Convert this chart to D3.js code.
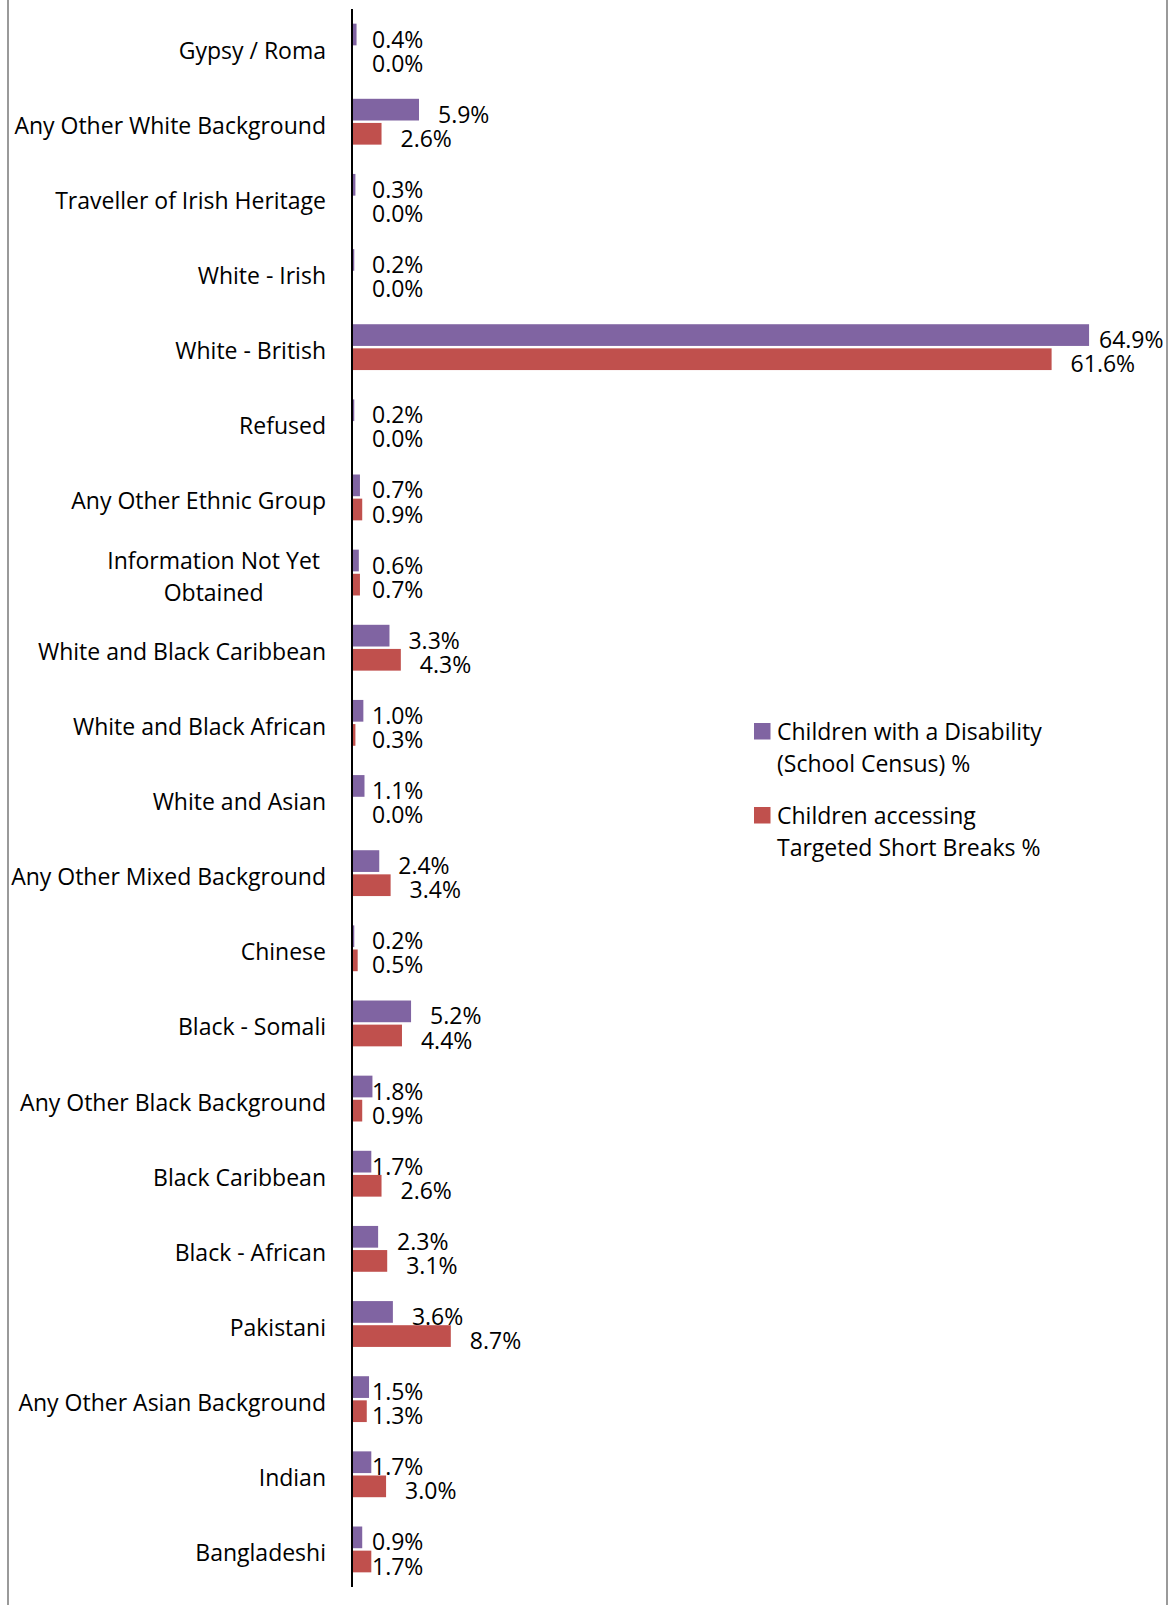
<!DOCTYPE html>
<html>
<head>
<meta charset="utf-8">
<script src="https://cdn.jsdelivr.net/npm/d3@7"></script>
<style>
  body { margin: 0; background: #fff; }
  svg text { font-family: "Open Sans", Lato, sans-serif; fill: #000; }
</style>
</head>
<body>
<div id="app"></div>
<script>
const container = document.querySelector('#app');

// chart size
const width = 1171;
const height = 1605;
const axisX = 352;
const marginTop = 9;
const marginBottom = 18;
const fontSize = 23;

// data
const categories = [
  "Gypsy / Roma",
  "Any Other White Background",
  "Traveller of Irish Heritage",
  "White - Irish",
  "White - British",
  "Refused",
  "Any Other Ethnic Group",
  "Information Not Yet Obtained",
  "White and Black Caribbean",
  "White and Black African",
  "White and Asian",
  "Any Other Mixed Background",
  "Chinese",
  "Black - Somali",
  "Any Other Black Background",
  "Black Caribbean",
  "Black - African",
  "Pakistani",
  "Any Other Asian Background",
  "Indian",
  "Bangladeshi"
];
const disabilityPct = [0.4, 5.9, 0.3, 0.2, 64.9, 0.2, 0.7, 0.6, 3.3, 1.0, 1.1, 2.4, 0.2, 5.2, 1.8, 1.7, 2.3, 3.6, 1.5, 1.7, 0.9];
const shortBreaksPct = [0.0, 2.6, 0.0, 0.0, 61.6, 0.0, 0.9, 0.7, 4.3, 0.3, 0.0, 3.4, 0.5, 4.4, 0.9, 2.6, 3.1, 8.7, 1.3, 3.0, 1.7];
const legendLines = [
  ["Children with a Disability", "(School Census) %"],
  ["Children accessing", "Targeted Short Breaks %"]
];
const colors = ["#8064A2", "#C0504D"];

const series = [disabilityPct, shortBreaksPct];

// scales
const x = d3.scaleLinear()
    .domain([0, 70])
    .range([axisX, 1147]);

const y = d3.scaleBand()
    .domain(categories)
    .range([marginTop, height - marginBottom])
    .paddingInner(0.39)
    .paddingOuter(0.195);

const ySub = d3.scaleBand()
    .domain([0, 1])
    .range([0, y.bandwidth()])
    .paddingInner(0.1);

const svg = d3.create("svg")
    .attr("width", width)
    .attr("height", height);

// outer frame (left and right edges visible)
svg.append("line")
    .attr("x1", 8).attr("x2", 8).attr("y1", 0).attr("y2", height)
    .attr("stroke", "#9a9a9a").attr("stroke-width", 2);
svg.append("line")
    .attr("x1", 1167).attr("x2", 1167).attr("y1", 0).attr("y2", height)
    .attr("stroke", "#9a9a9a").attr("stroke-width", 2);

// bars
series.forEach((vals, s) => {
  svg.append("g")
    .selectAll("rect")
    .data(categories)
    .join("rect")
      .attr("x", x(0))
      .attr("y", d => y(d) + ySub(s))
      .attr("width", (d, i) => x(vals[i]) - x(0))
      .attr("height", ySub.bandwidth())
      .attr("fill", colors[s]);
});

// value labels
series.forEach((vals, s) => {
  svg.append("g")
    .selectAll("text")
    .data(categories)
    .join("text")
      .attr("x", (d, i) => {
        const v = vals[i];
        let px = v >= 2 ? x(v) + 19 : x(0) + 20;
        return Math.min(px, 1099);
      })
      .attr("y", d => y(d) + ySub(s) + ySub.bandwidth() / 2 + 5)
      .attr("dy", "0.35em")
      .attr("font-size", fontSize)
      .text((d, i) => vals[i].toFixed(1) + "%");
});

// category labels (right aligned, the long one wraps and is centred)
const labelRight = 326;
const catG = svg.append("g");
categories.forEach(c => {
  const cy = y(c) + y.bandwidth() / 2 + 4;
  if (c === "Information Not Yet Obtained") {
    const lines = ["Information Not Yet", "Obtained"];
    const t = catG.append("text")
        .attr("font-size", fontSize)
        .attr("text-anchor", "middle")
        .attr("data-wrap", "1");
    lines.forEach((ln, k) => {
      t.append("tspan")
        .attr("y", cy + (k - 0.5) * 32)
        .attr("dy", "0.35em")
        .text(ln);
    });
  } else {
    catG.append("text")
      .attr("x", labelRight)
      .attr("y", cy)
      .attr("dy", "0.35em")
      .attr("font-size", fontSize)
      .attr("text-anchor", "end")
      .text(c);
  }
});

// vertical axis line
svg.append("line")
    .attr("x1", axisX).attr("x2", axisX)
    .attr("y1", marginTop).attr("y2", height - marginBottom)
    .attr("stroke", "#000").attr("stroke-width", 2);

// legend
const legend = svg.append("g").attr("transform", "translate(754,723)");
legendLines.forEach((lines, s) => {
  const g = legend.append("g").attr("transform", `translate(0,${s * 84})`);
  g.append("rect")
    .attr("width", 16.5).attr("height", 16.5)
    .attr("fill", colors[s]);
  const t = g.append("text").attr("font-size", fontSize);
  lines.forEach((ln, k) => {
    t.append("tspan")
      .attr("x", 23)
      .attr("y", 8.5 + k * 32)
      .attr("dy", "0.35em")
      .text(ln);
  });
});

container.append(svg.node());

// centre the wrapped label block so its widest line ends near the label edge
svg.selectAll("text[data-wrap]").each(function() {
  const first = this.querySelector("tspan");
  const w = first.getComputedTextLength();
  d3.select(this).selectAll("tspan").attr("x", labelRight - 6 - w / 2);
});
</script>
</body>
</html>
